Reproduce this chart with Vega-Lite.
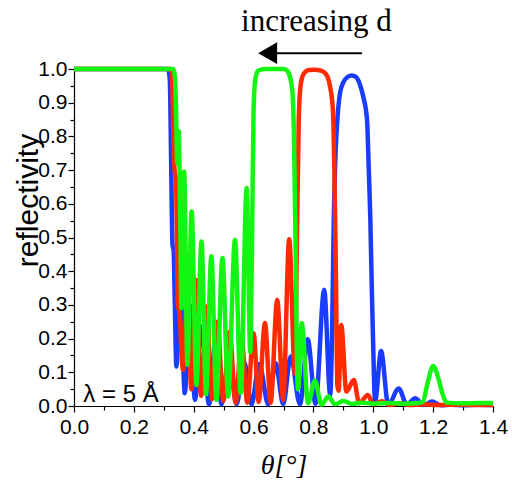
{
  "$schema": "https://vega.github.io/schema/vega-lite/v6.json",
  "width": 419,
  "height": 337,
  "autosize": "none",
  "padding": {"left": 74, "top": 69, "right": 19, "bottom": 78},
  "background": "white",
  "config": {"view": {"stroke": null}, "font": "Liberation Sans"},
  "datasets": {
    "curves": [
      {"s":"blue","t":0,"r":1},{"s":"blue","t":0.1,"r":1},{"s":"blue","t":0.2,"r":1},{"s":"blue","t":0.3,"r":1},{"s":"blue","t":0.314,"r":1},{"s":"blue","t":0.32,"r":0.97},{"s":"blue","t":0.325,"r":0.7},{"s":"blue","t":0.329,"r":0.48},{"s":"blue","t":0.333,"r":0.46},{"s":"blue","t":0.337,"r":0.3},{"s":"blue","t":0.342,"r":0.117},{"s":"blue","t":0.356,"r":0.38},{"s":"blue","t":0.37,"r":0.038},{"s":"blue","t":0.388,"r":0.3},{"s":"blue","t":0.404,"r":0.018},{"s":"blue","t":0.426,"r":0.236},{"s":"blue","t":0.451,"r":0.005},{"s":"blue","t":0.472,"r":0.18},{"s":"blue","t":0.493,"r":0.005},{"s":"blue","t":0.518,"r":0.14},{"s":"blue","t":0.543,"r":0.005},{"s":"blue","t":0.569,"r":0.13},{"s":"blue","t":0.593,"r":0.005},{"s":"blue","t":0.619,"r":0.125},{"s":"blue","t":0.649,"r":0.005},{"s":"blue","t":0.674,"r":0.127},{"s":"blue","t":0.699,"r":0.005},{"s":"blue","t":0.724,"r":0.147},{"s":"blue","t":0.755,"r":0.005},{"s":"blue","t":0.781,"r":0.198},{"s":"blue","t":0.807,"r":0.006},{"s":"blue","t":0.836,"r":0.345},{"s":"blue","t":0.856,"r":0.033},{"s":"blue","t":0.862,"r":0.2},{"s":"blue","t":0.868,"r":0.55},{"s":"blue","t":0.874,"r":0.75},{"s":"blue","t":0.88,"r":0.85},{"s":"blue","t":0.889,"r":0.929},{"s":"blue","t":0.9,"r":0.96},{"s":"blue","t":0.915,"r":0.977},{"s":"blue","t":0.928,"r":0.981},{"s":"blue","t":0.942,"r":0.976},{"s":"blue","t":0.955,"r":0.955},{"s":"blue","t":0.966,"r":0.92},{"s":"blue","t":0.979,"r":0.85},{"s":"blue","t":0.985,"r":0.7},{"s":"blue","t":0.99,"r":0.56},{"s":"blue","t":0.995,"r":0.35},{"s":"blue","t":1.0,"r":0.166},{"s":"blue","t":1.006,"r":0.013},{"s":"blue","t":1.026,"r":0.163},{"s":"blue","t":1.05,"r":0.004},{"s":"blue","t":1.085,"r":0.052},{"s":"blue","t":1.112,"r":0.004},{"s":"blue","t":1.14,"r":0.023},{"s":"blue","t":1.168,"r":0.003},{"s":"blue","t":1.196,"r":0.013},{"s":"blue","t":1.225,"r":0.002},{"s":"blue","t":1.26,"r":0.004},{"s":"blue","t":1.3,"r":0.002},{"s":"blue","t":1.35,"r":0.004},{"s":"blue","t":1.4,"r":0.003},

      {"s":"red","t":0,"r":1},{"s":"red","t":0.1,"r":1},{"s":"red","t":0.2,"r":1},{"s":"red","t":0.3,"r":1},{"s":"red","t":0.322,"r":1},{"s":"red","t":0.328,"r":0.97},{"s":"red","t":0.332,"r":0.8},{"s":"red","t":0.336,"r":0.7},{"s":"red","t":0.341,"r":0.67},{"s":"red","t":0.347,"r":0.3},{"s":"red","t":0.352,"r":0.28},{"s":"red","t":0.364,"r":0.107},{"s":"red","t":0.379,"r":0.45},{"s":"red","t":0.392,"r":0.05},{"s":"red","t":0.408,"r":0.374},{"s":"red","t":0.425,"r":0.03},{"s":"red","t":0.443,"r":0.295},{"s":"red","t":0.461,"r":0.02},{"s":"red","t":0.479,"r":0.25},{"s":"red","t":0.499,"r":0.015},{"s":"red","t":0.52,"r":0.22},{"s":"red","t":0.54,"r":0.01},{"s":"red","t":0.56,"r":0.2},{"s":"red","t":0.579,"r":0.01},{"s":"red","t":0.6,"r":0.216},{"s":"red","t":0.617,"r":0.012},{"s":"red","t":0.638,"r":0.246},{"s":"red","t":0.657,"r":0.009},{"s":"red","t":0.679,"r":0.315},{"s":"red","t":0.699,"r":0.018},{"s":"red","t":0.719,"r":0.495},{"s":"red","t":0.738,"r":0.097},{"s":"red","t":0.745,"r":0.5},{"s":"red","t":0.751,"r":0.85},{"s":"red","t":0.757,"r":0.95},{"s":"red","t":0.767,"r":0.985},{"s":"red","t":0.785,"r":0.997},{"s":"red","t":0.805,"r":0.998},{"s":"red","t":0.825,"r":0.995},{"s":"red","t":0.842,"r":0.985},{"s":"red","t":0.855,"r":0.95},{"s":"red","t":0.865,"r":0.88},{"s":"red","t":0.87,"r":0.7},{"s":"red","t":0.875,"r":0.4},{"s":"red","t":0.88,"r":0.06},{"s":"red","t":0.884,"r":0.045},{"s":"red","t":0.893,"r":0.24},{"s":"red","t":0.91,"r":0.043},{"s":"red","t":0.935,"r":0.077},{"s":"red","t":0.953,"r":0.008},{"s":"red","t":0.982,"r":0.033},{"s":"red","t":1.0,"r":0.005},{"s":"red","t":1.029,"r":0.014},{"s":"red","t":1.055,"r":0.003},{"s":"red","t":1.09,"r":0.008},{"s":"red","t":1.12,"r":0.003},{"s":"red","t":1.17,"r":0.005},{"s":"red","t":1.22,"r":0.003},{"s":"red","t":1.28,"r":0.004},{"s":"red","t":1.34,"r":0.003},{"s":"red","t":1.4,"r":0.003},

      {"s":"green","t":0,"r":1},{"s":"green","t":0.1,"r":1},{"s":"green","t":0.2,"r":1},{"s":"green","t":0.3,"r":1},{"s":"green","t":0.332,"r":1},{"s":"green","t":0.337,"r":0.98},{"s":"green","t":0.341,"r":0.88},{"s":"green","t":0.345,"r":0.72},{"s":"green","t":0.35,"r":0.815},{"s":"green","t":0.355,"r":0.55},{"s":"green","t":0.359,"r":0.29},{"s":"green","t":0.368,"r":0.696},{"s":"green","t":0.379,"r":0.122},{"s":"green","t":0.393,"r":0.577},{"s":"green","t":0.409,"r":0.062},{"s":"green","t":0.426,"r":0.488},{"s":"green","t":0.441,"r":0.035},{"s":"green","t":0.459,"r":0.444},{"s":"green","t":0.476,"r":0.018},{"s":"green","t":0.496,"r":0.439},{"s":"green","t":0.515,"r":0.028},{"s":"green","t":0.538,"r":0.493},{"s":"green","t":0.557,"r":0.038},{"s":"green","t":0.577,"r":0.647},{"s":"green","t":0.589,"r":0.16},{"s":"green","t":0.595,"r":0.5},{"s":"green","t":0.6,"r":0.88},{"s":"green","t":0.606,"r":0.97},{"s":"green","t":0.615,"r":0.995},{"s":"green","t":0.64,"r":1},{"s":"green","t":0.67,"r":1},{"s":"green","t":0.7,"r":1},{"s":"green","t":0.712,"r":0.995},{"s":"green","t":0.722,"r":0.975},{"s":"green","t":0.73,"r":0.93},{"s":"green","t":0.735,"r":0.8},{"s":"green","t":0.74,"r":0.5},{"s":"green","t":0.744,"r":0.2},{"s":"green","t":0.748,"r":0.05},{"s":"green","t":0.761,"r":0.246},{"s":"green","t":0.782,"r":0.008},{"s":"green","t":0.805,"r":0.075},{"s":"green","t":0.827,"r":0.004},{"s":"green","t":0.85,"r":0.028},{"s":"green","t":0.872,"r":0.005},{"s":"green","t":0.9,"r":0.015},{"s":"green","t":0.93,"r":0.006},{"s":"green","t":0.96,"r":0.01},{"s":"green","t":1.0,"r":0.007},{"s":"green","t":1.05,"r":0.009},{"s":"green","t":1.1,"r":0.007},{"s":"green","t":1.15,"r":0.009},{"s":"green","t":1.165,"r":0.012},{"s":"green","t":1.182,"r":0.07},{"s":"green","t":1.2,"r":0.119},{"s":"green","t":1.215,"r":0.09},{"s":"green","t":1.23,"r":0.04},{"s":"green","t":1.246,"r":0.01},{"s":"green","t":1.3,"r":0.008},{"s":"green","t":1.35,"r":0.009},{"s":"green","t":1.4,"r":0.009}
    ],
    "notes": [
      {"label": "increasing d", "t": 0.81, "r": 1.112},
      {"label": "λ = 5 Å", "t": 0.031, "r": 0.012}
    ],
    "arrow": [
      {"t": 0.962, "t2": 0.67, "r": 1.047}
    ],
    "arrowhead": [
      {"t": 0.647, "r": 1.047}
    ]
  },
  "encoding": {
    "x": {
      "field": "t", "type": "quantitative",
      "scale": {"domain": [0, 1.4], "nice": false, "zero": false},
      "axis": {
        "values": [0,0.1,0.2,0.3,0.4,0.5,0.6,0.7,0.8,0.9,1.0,1.1,1.2,1.3,1.4],
        "labelExpr": "abs(datum.value*5 - round(datum.value*5)) < 0.001 ? format(datum.value, '.1f') : ''",
        "labelOverlap": false,
        "labelFontSize": 21, "labelColor": "black", "labelPadding": 4,
        "labelFlush": false,
        "tickSize": {"condition": {"test": "abs(datum.value*5 - round(datum.value*5)) < 0.001", "value": 6}, "value": 4},
        "tickColor": "black", "tickWidth": 1.2,
        "domainColor": "black", "domainWidth": 1.2,
        "grid": false,
        "title": "θ[°]", "titleFont": "Liberation Serif", "titleFontStyle": "italic",
        "titleFontWeight": "normal", "titleFontSize": 28, "titleColor": "black", "titlePadding": 14
      }
    },
    "y": {
      "field": "r", "type": "quantitative",
      "scale": {"domain": [0, 1.0], "nice": false},
      "axis": {
        "values": [0,0.05,0.1,0.15,0.2,0.25,0.3,0.35,0.4,0.45,0.5,0.55,0.6,0.65,0.7,0.75,0.8,0.85,0.9,0.95,1.0],
        "labelExpr": "abs(datum.value*10 - round(datum.value*10)) < 0.001 ? format(datum.value, '.1f') : ''",
        "labelOverlap": false,
        "labelFontSize": 21, "labelColor": "black", "labelPadding": 1,
        "labelFlush": false,
        "tickSize": {"condition": {"test": "abs(datum.value*10 - round(datum.value*10)) < 0.001", "value": 6}, "value": 4},
        "tickColor": "black", "tickWidth": 1.2,
        "domainColor": "black", "domainWidth": 1.2,
        "grid": false,
        "title": "reflectivity", "titleFontSize": 30, "titleFontWeight": "normal", "titleColor": "black",
        "titleX": -37, "titleY": 131, "titleBaseline": "alphabetic", "titleAlign": "center", "titleAngle": 270
      }
    }
  },
  "layer": [
    {
      "data": {"name": "curves"},
      "transform": [{"filter": "datum.s === 'blue'"}],
      "mark": {"type": "line", "interpolate": "monotone", "strokeWidth": 4.5, "color": "#1a3cff"}
    },
    {
      "data": {"name": "curves"},
      "transform": [{"filter": "datum.s === 'red'"}],
      "mark": {"type": "line", "interpolate": "monotone", "strokeWidth": 4.5, "color": "#ff2a00"}
    },
    {
      "data": {"name": "curves"},
      "transform": [{"filter": "datum.s === 'green'"}],
      "mark": {"type": "line", "interpolate": "monotone", "strokeWidth": 4.5, "color": "#14f514"}
    },
    {
      "data": {"name": "notes"},
      "transform": [{"filter": "datum.label === 'increasing d'"}],
      "mark": {"type": "text", "font": "Liberation Serif", "fontSize": 31, "align": "center", "baseline": "alphabetic", "color": "black"},
      "encoding": {"text": {"field": "label"}}
    },
    {
      "data": {"name": "notes"},
      "transform": [{"filter": "datum.label !== 'increasing d'"}],
      "mark": {"type": "text", "font": "Liberation Sans", "fontSize": 24, "align": "left", "baseline": "alphabetic", "color": "black"},
      "encoding": {"text": {"field": "label"}}
    },
    {
      "data": {"name": "arrow"},
      "mark": {"type": "rule", "color": "black", "strokeWidth": 2},
      "encoding": {"x2": {"field": "t2"}}
    },
    {
      "data": {"name": "arrowhead"},
      "mark": {"type": "point", "shape": "triangle-left", "filled": true, "color": "black", "opacity": 1, "size": 480}
    }
  ]
}
